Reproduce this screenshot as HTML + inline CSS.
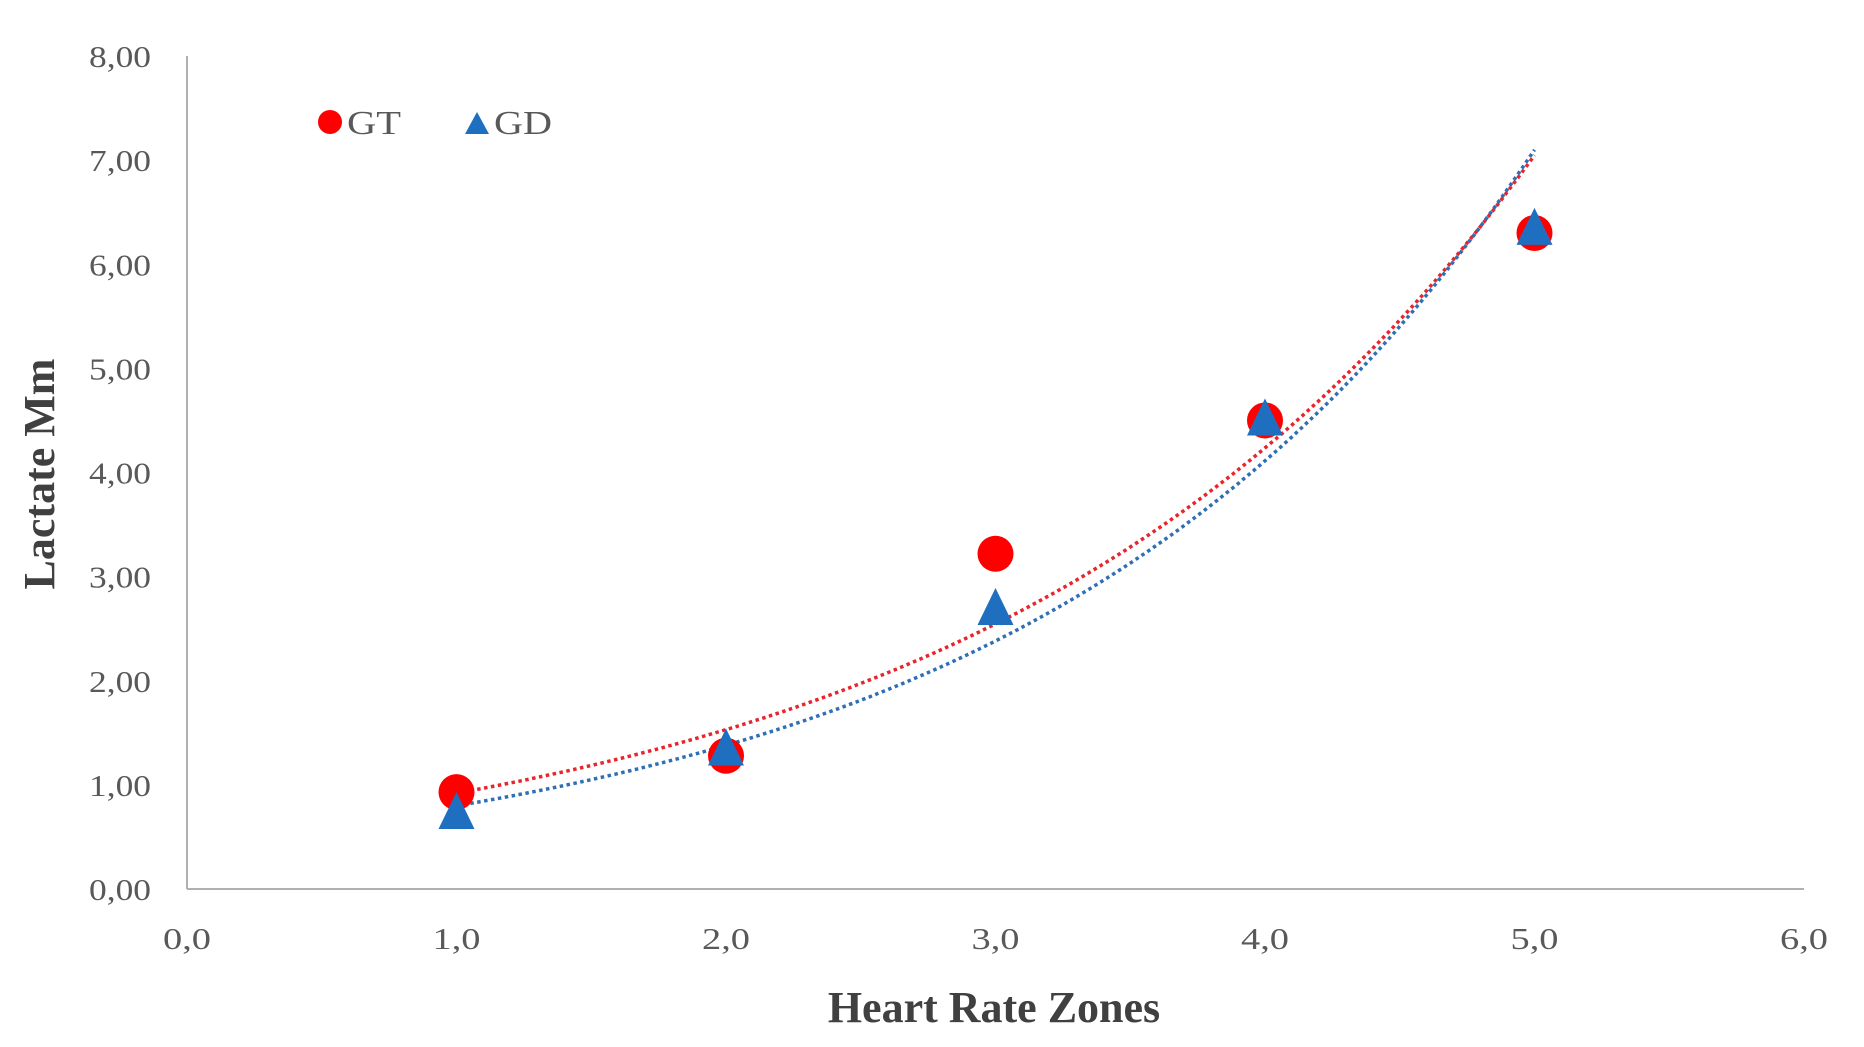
<!DOCTYPE html>
<html><head><meta charset="utf-8"><style>
html,body{margin:0;padding:0;background:#fff;}
svg{display:block;}
text{font-family:"Liberation Serif",serif;}
</style></head><body>
<svg id="chart" width="1864" height="1047" viewBox="0 0 1864 1047">
<g id="axes"></g>
<g id="trends"></g>
<g id="marks"></g>
<g>
 <circle cx="330" cy="122" r="12" fill="#ff0000"/>
 <text x="347" y="134" font-size="34" fill="#595959" textLength="54" lengthAdjust="spacingAndGlyphs">GT</text>
 <polygon points="465,134 477,112 489,134" fill="#1f6fc0"/>
 <text x="494" y="134" font-size="34" fill="#595959" textLength="58" lengthAdjust="spacingAndGlyphs">GD</text>
</g>
<text x="994" y="1022" font-size="44" font-weight="bold" fill="#404040" text-anchor="middle">Heart Rate Zones</text>
<text transform="translate(54,474) rotate(-90)" font-size="44" font-weight="bold" fill="#404040" text-anchor="middle">Lactate Mm</text>
</svg>
<script>
const xTicks=[0,1,2,3,4,5,6];
const xTickLabels=["0,0","1,0","2,0","3,0","4,0","5,0","6,0"];
const yTicks=[0,1,2,3,4,5,6,7,8];
const yTickLabels=["0,00","1,00","2,00","3,00","4,00","5,00","6,00","7,00","8,00"];
const zones=[1,2,3,4,5];
const gtValues=[0.93,1.28,3.22,4.5,6.3];
const gdValues=[0.72,1.33,2.68,4.5,6.33];
const gtTrend=[0.553,0.509];
const gdTrend=[0.463,0.546];

const X0=187,X1=1804,Y0=889,Y1=56;
const sx=v=>X0+(v-0)/(6-0)*(X1-X0);
const sy=v=>Y0-(v-0)/(8-0)*(Y0-Y1);
const NS="http://www.w3.org/2000/svg";
function mk(tag,attrs,parent){const e=document.createElementNS(NS,tag);for(const k in attrs)e.setAttribute(k,attrs[k]);parent.appendChild(e);return e;}
const axes=document.getElementById('axes');
let a=mk('line',{x1:X0,y1:Y1,x2:X0,y2:Y0,stroke:'#b0b0b0','stroke-width':2},axes);


a=mk('line',{x1:X0,y1:Y0,x2:X1,y2:Y0,stroke:'#b0b0b0','stroke-width':2},axes);


yTicks.forEach((v,i)=>{const t=mk('text',{x:151,y:sy(v)+11,'font-size':31,fill:'#595959','text-anchor':'end',textLength:62,lengthAdjust:'spacingAndGlyphs'},axes);t.textContent=yTickLabels[i];

});
xTicks.forEach((v,i)=>{const t=mk('text',{x:sx(v),y:949,'font-size':31,fill:'#595959','text-anchor':'middle',textLength:48,lengthAdjust:'spacingAndGlyphs'},axes);t.textContent=xTickLabels[i];

});
const trends=document.getElementById('trends');
function trend(p,color,name){let d='';for(let x=1;x<=5.0001;x+=0.02){d+=(d?'L':'M')+sx(x).toFixed(1)+','+sy(p[0]*Math.exp(p[1]*x)).toFixed(1);}
const e=mk('path',{d:d,fill:'none',stroke:color,'stroke-width':3.5,'stroke-dasharray':'3.5 3.5'},trends);

}
trend(gtTrend,'#e8242c','gt-trendline');
trend(gdTrend,'#2e6fb5','gd-trendline');
const marks=document.getElementById('marks');
zones.forEach((z,i)=>{const c=mk('circle',{cx:sx(z),cy:sy(gtValues[i]),r:18,fill:'#ff0000'},marks);

});
zones.forEach((z,i)=>{const x=sx(z),y=sy(gdValues[i]);const p=mk('polygon',{points:`${x-18},${y+15} ${x},${y-22} ${x+18},${y+15}`,fill:'#1f6fc0'},marks);

});
</script>
</body></html>
